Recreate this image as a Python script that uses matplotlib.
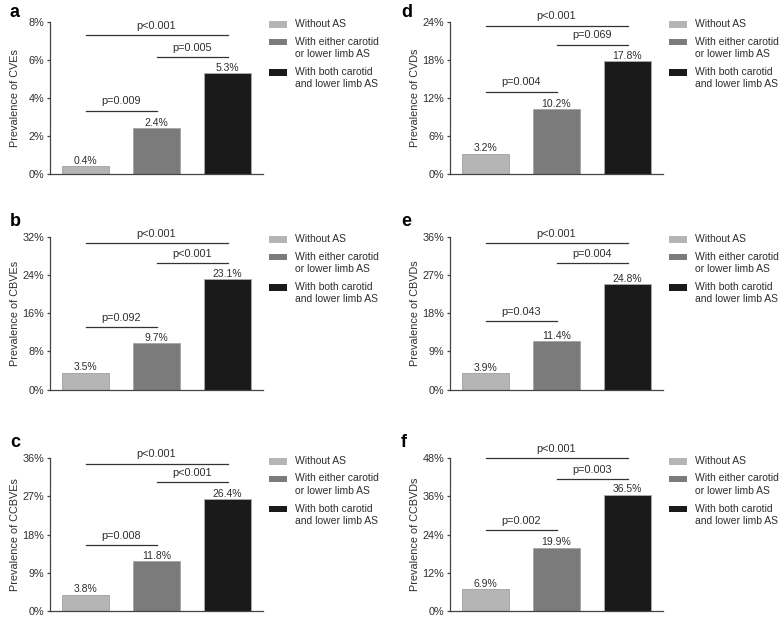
import matplotlib.pyplot as plt
from matplotlib.patches import Rectangle
from matplotlib.ticker import FuncFormatter

plt.rcParams['font.family'] = ['Liberation Sans', 'DejaVu Sans']

categories = ['Without AS', 'With either carotid\nor lower limb AS',
              'With both carotid\nand lower limb AS']
colors = ['#b5b5b5', '#7b7b7b', '#1a1a1a']

letters = ['a', 'b', 'c', 'd', 'e', 'f']
ylabels = ['Prevalence of CVEs', 'Prevalence of CBVEs', 'Prevalence of CCBVEs',
           'Prevalence of CVDs', 'Prevalence of CBVDs', 'Prevalence of CCBVDs']

# prevalence (%) for the three groups
vals_a = [0.4, 2.4, 5.3]
vals_b = [3.5, 9.7, 23.1]
vals_c = [3.8, 11.8, 26.4]
vals_d = [3.2, 10.2, 17.8]
vals_e = [3.9, 11.4, 24.8]
vals_f = [6.9, 19.9, 36.5]
values = [vals_a, vals_b, vals_c, vals_d, vals_e, vals_f]

ymax = [8, 32, 36, 24, 36, 48]
ystep = [2, 8, 9, 6, 9, 12]

# comparisons: (group i, group j)
pairs = [(0, 1), (1, 2), (0, 2)]
pvals = [['p=0.009', 'p=0.005', 'p<0.001'],
         ['p=0.092', 'p<0.001', 'p<0.001'],
         ['p=0.008', 'p<0.001', 'p<0.001'],
         ['p=0.004', 'p=0.069', 'p<0.001'],
         ['p=0.043', 'p=0.004', 'p<0.001'],
         ['p=0.002', 'p=0.003', 'p<0.001']]
# bracket heights in data units (%)
bh = [[3.33, 6.16, 7.28],
      [13.1, 26.5, 30.6],
      [15.5, 30.4, 34.75],
      [13.0, 20.4, 23.4],
      [16.2, 29.75, 34.4],
      [25.4, 41.5, 48.0]]

W, H = 784, 618
fig = plt.figure(figsize=(W / 100, H / 100), dpi=100)

txt = '#2e2e2e'
col_x = [50, 450]
row_top = [21.7, 236.7, 458.3]
row_bot = [174, 389.5, 611]
letter_y = [17, 226, 447]
letter_x = [10, 401]
aw = 213

for k in range(6):
    c, r = k // 3, k % 3
    x0 = col_x[c]
    ah = row_bot[r] - row_top[r]
    ax = fig.add_axes([x0 / W, 1 - row_bot[r] / H, aw / W, ah / H])
    v = values[k]
    ax.bar(range(3), v, width=0.667, color=colors, edgecolor='#a8a8a8', linewidth=0.7)
    ax.set_xlim(-0.5, 2.5)
    ax.set_ylim(0, ymax[k])
    ax.set_yticks(range(0, ymax[k] + 1, ystep[k]))
    ax.yaxis.set_major_formatter(FuncFormatter(lambda y, p: '%d%%' % y))
    ax.set_xticks([])
    for s in ['top', 'right']:
        ax.spines[s].set_visible(False)
    for s in ['left', 'bottom']:
        ax.spines[s].set_color('#444444')
        ax.spines[s].set_linewidth(0.9)
    ax.tick_params(axis='y', length=2.5, width=0.9, pad=1.6, colors='#444444',
                   labelsize=7.8, labelcolor=txt)
    ax.set_ylabel(ylabels[k], fontsize=7.8, color=txt, va='bottom')
    ax.yaxis.set_label_coords(-30 / aw, 0.5)

    for i in range(3):
        ax.annotate('%.1f%%' % v[i], (i, v[i]), xytext=(0, 0.3), textcoords='offset points',
                    ha='center', va='bottom', fontsize=7.5, color=txt)

    for (i, j), lab, h in zip(pairs, pvals[k], bh[k]):
        ax.plot([i, j], [h, h], color='#333333', lw=0.9, clip_on=False)
        ax.annotate(lab, ((i + j) / 2, h), xytext=(0, 3.0), textcoords='offset points',
                    ha='center', va='bottom', fontsize=7.8, color=txt)

    # legend drawn by hand so the swatch sits on the first text line
    yoff = 3.0
    for i in range(3):
        yc = row_top[r] + yoff
        fig.patches.append(Rectangle(((x0 + aw + 6) / W, 1 - (yc + 3.2) / H), 18 / W, 6.4 / H,
                                     transform=fig.transFigure, facecolor=colors[i],
                                     edgecolor='none'))
        fig.text((x0 + aw + 32) / W, 1 - (yc - 5.4) / H, categories[i], ha='left', va='top',
                 fontsize=7.5, color=txt, linespacing=1.3)
        yoff += categories[i].count('\n') * 12.6 + 17.5

    fig.text(letter_x[c] / W, 1 - letter_y[r] / H, letters[k], fontsize=13,
             fontweight='bold', ha='left', va='baseline', color='black')

fig.savefig('out.png', dpi=100)
